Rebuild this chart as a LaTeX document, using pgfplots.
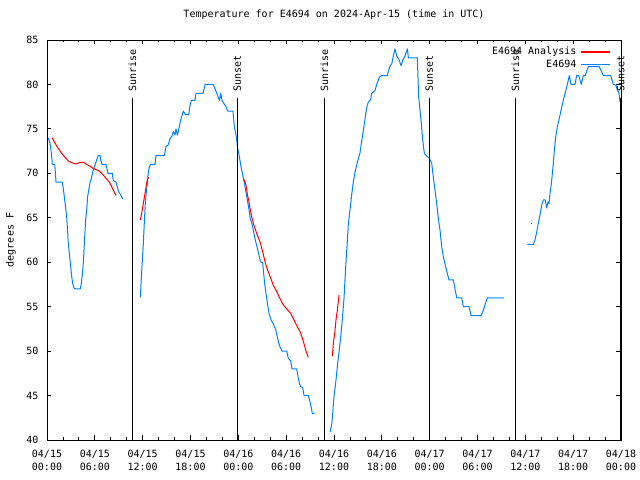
\documentclass[border=0pt]{standalone}
\usepackage{pgfplots}
\pgfplotsset{compat=1.18}
\usepackage{fontspec}
\setmainfont{DejaVu Sans Mono}
\definecolor{gpblue}{RGB}{0,128,255}
\definecolor{gpred}{RGB}{255,0,0}
\begin{document}
\fontsize{10bp}{13.4bp}\selectfont
\begin{tikzpicture}
\useasboundingbox (-47bp,-40bp) rectangle (593bp,440bp);
\begin{axis}[
  at={(0,0)}, anchor=south west,
  scale only axis, width=574bp, height=400bp,
  xmin=0, xmax=72, ymin=40, ymax=85,
  xtick={0,6,...,72},
  xticklabels={{04/15\\00:00},{04/15\\06:00},{04/15\\12:00},{04/15\\18:00},{04/16\\00:00},{04/16\\06:00},{04/16\\12:00},{04/16\\18:00},{04/17\\00:00},{04/17\\06:00},{04/17\\12:00},{04/17\\18:00},{04/18\\00:00}},
  x tick label style={align=center, yshift=-6.5bp, font=\fontsize{10bp}{13.4bp}\selectfont},
  minor x tick num=2,
  ytick={40,45,...,85},
  y tick label style={xshift=-5bp},
  /pgf/number format/assume math mode=true,
  major tick length=4.5bp, minor tick length=2.5bp,
  tick style={black, line width=0.8bp},
  axis line style={black, line width=0.9bp},
  ylabel={degrees F},
  ylabel style={at={(axis description cs:-0.0627,0.5)}, anchor=center},
  title={Temperature for E4694 on 2024-Apr-15 (time in UTC)},
  title style={at={(0.5,1)}, anchor=base, yshift=16.7bp, inner sep=0pt},
  clip=false,
  legend plot pos=right,
  legend cell align=right,
  legend image code/.code={\draw[#1, line width=1.4bp] (0bp,0bp) -- (28.6bp,0bp);},
  legend style={draw=none, fill=none, at={(rel axis cs:0.987,0.991)}, anchor=north east, row sep=0.5bp,
    nodes={inner sep=1.5bp}, column sep=2.5bp},
  every axis plot/.append style={line width=1bp, line join=round},
]
\addlegendimage{color=gpred}
\addlegendentry{E4694 Analysis}
\addlegendimage{color=gpblue}
\addlegendentry{E4694}

% Blue segments
\addplot[gpblue, forget plot] coordinates {
(0.16,74) (0.38,73.4) (0.5,72.6) (0.63,71.5) (0.66,71) (0.97,71) (1.09,69.6) (1.13,69) (1.92,69) (2.04,68.3) (2.17,67.4) (2.3,66.4) (2.47,65.1) (2.55,64) (2.67,62.1) (2.8,61) (2.97,59.5) (3.1,58.4) (3.22,57.6) (3.39,57.1) (3.55,57) (4.18,57) (4.3,57.6) (4.43,58.6) (4.52,59.5) (4.6,60.6) (4.68,62.1) (4.85,64.75) (4.98,65.9) (5.1,67.4) (5.27,68.3) (5.39,68.9) (5.61,69.6) (5.81,70.4) (6.02,70.9) (6.23,71.5) (6.43,72) (6.65,72) (6.74,71.5) (6.9,71) (7.4,71) (7.65,70) (8.19,70) (8.32,69.2) (8.66,69) (8.82,68.5) (8.99,67.9) (9.24,67.6) (9.5,67.1)
};
\addplot[gpblue, forget plot] coordinates {
(11.71,56.05) (11.83,58.2) (11.95,60.05) (12.08,62.05) (12.2,64.3) (12.33,66.6) (12.46,67.9) (12.58,68.9) (12.71,70.1) (12.83,70.7) (13.0,71) (13.55,71) (13.67,72) (14.72,72) (14.93,73) (15.2,73.2) (15.43,73.9) (15.68,74.2) (15.85,74.7) (16.06,74.3) (16.18,75) (16.35,74.3) (16.6,75.25) (16.77,76) (17.1,77) (17.37,76.6) (17.78,76.6) (17.93,77.6) (18.1,78.2) (18.55,78.2) (18.7,79) (19.58,79) (19.83,80) (20.86,80) (21.12,79.4) (21.38,78.8) (21.64,78.2) (21.79,79) (21.95,78.2) (22.15,77.9) (22.4,77.6) (22.67,77) (23.33,77) (23.4,76.2) (23.5,75.25) (23.67,74.5) (23.8,73.75) (23.92,72.8) (24.05,72.25) (24.2,71.5) (24.33,70.75) (24.46,70.2) (24.63,69.45) (24.8,68.7) (24.96,67.9) (25.09,67.2) (25.25,66.4) (25.38,65.7) (25.5,64.9) (25.68,64.4) (25.84,63.8) (26.0,63.05) (26.18,62.3) (26.38,61.6) (26.6,60.8) (26.76,60.05) (27.05,59.95) (27.18,58.75) (27.3,57.6) (27.47,56.5) (27.64,55.4) (27.85,54.25) (28.1,53.5) (28.39,53.05) (28.69,52.4) (28.89,51.6) (29.1,50.8) (29.31,50.3) (29.48,50) (30.07,50) (30.27,49.2) (30.57,48.9) (30.73,48) (31.32,48) (31.49,47.1) (31.65,46.4) (31.82,46) (32.07,45.9) (32.24,45) (32.78,45) (32.99,44.3) (33.12,43.75) (33.28,43) (33.58,43)
};
\addplot[gpblue, forget plot] coordinates {
(35.5,40.9) (35.71,41.7) (35.84,43) (36.0,44.9) (36.21,46.4) (36.42,48.25) (36.63,49.9) (36.84,51.6) (37.04,53.5) (37.26,56) (37.47,59.5) (37.63,61.8) (37.8,64.3) (38.0,65.8) (38.22,67.6) (38.42,69) (38.63,70.1) (38.92,71.2) (39.26,72.3) (39.47,73.6) (39.68,74.8) (39.89,76.1) (40.1,77.4) (40.3,78) (40.6,78.3) (40.73,79) (41.14,79.3) (41.36,80) (41.68,80.8) (41.98,81) (42.69,81) (42.82,81.5) (43.03,82.1) (43.24,82.3) (43.44,83.2) (43.65,84) (43.87,83.2) (44.15,82.8) (44.41,82.1) (44.66,82.8) (44.91,83.2) (45.2,84) (45.33,83) (46.45,83) (46.62,78.6) (46.87,76.4) (47.13,73.75) (47.33,72.25) (47.63,71.95) (47.96,71.7) (48.26,71.1) (48.46,69.6) (48.67,68.1) (48.88,66.6) (49.09,64.9) (49.3,63.6) (49.51,61.75) (49.72,60.6) (50.01,59.5) (50.21,58.75) (50.43,58) (50.97,58) (51.18,57) (51.39,56) (52.02,56) (52.22,55) (52.94,55) (53.19,54) (54.44,54) (54.65,54.4) (54.94,55.2) (55.23,56) (57.33,56)
};
\addplot[gpblue, forget plot] coordinates {
(60.25,62) (61.0,62) (61.21,62.5) (61.43,63.4) (61.63,64.4) (61.84,65.3) (62.05,66.4) (62.26,67) (62.5,67) (62.68,66.1) (62.85,66.8) (62.97,66.6) (63.1,67.75) (63.22,68.5) (63.35,69.6) (63.51,71.1) (63.64,72.6) (63.81,74.1) (64.01,75.2) (64.26,76.2) (64.51,77.2) (64.76,78.2) (65.02,79.1) (65.27,80) (65.52,81) (65.73,80) (66.23,80) (66.44,81) (66.7,81) (67.02,80) (67.27,81) (67.52,81) (67.7,81.5) (67.9,82) (69.28,82) (69.53,81.5) (69.78,81) (70.71,81) (70.87,80.5) (71.04,80) (71.37,79.9) (71.54,79.4) (71.75,79) (71.87,78.1)
};

% Red segments
\addplot[gpred, forget plot] coordinates {
(0.66,74) (1.0,73.4) (1.42,72.8) (1.84,72.25) (2.26,71.8) (2.67,71.4) (3.1,71.2) (3.64,71.05) (4.05,71.2) (4.55,71.25) (4.98,71) (5.39,70.8) (5.81,70.55) (6.23,70.4) (6.65,70.2) (7.06,69.8) (7.49,69.35) (7.9,68.9) (8.32,68.1) (8.66,67.5)
};
\addplot[gpred, forget plot] coordinates {
(11.71,64.75) (11.88,65.5) (12.08,66.6) (12.33,67.9) (12.58,69.3) (12.75,69.55)
};
\addplot[gpred, forget plot] coordinates {
(24.71,69.3) (24.96,68.7) (25.13,67.6) (25.3,67) (25.46,66.1) (25.68,65.1) (25.88,64.4) (26.09,63.8) (26.38,63.05) (26.72,62.3) (27.05,61.2) (27.35,60.05) (27.68,59.1) (28.06,58.2) (28.39,57.4) (28.81,56.7) (29.23,55.9) (29.64,55.2) (30.07,54.75) (30.57,54.25) (30.98,53.5) (31.4,52.75) (31.74,52.2) (32.03,51.45) (32.28,50.7) (32.49,50) (32.78,49.3)
};
\addplot[gpred, forget plot] coordinates {
(35.79,49.4) (35.92,50.9) (36.09,52) (36.25,53.5) (36.42,54.6) (36.63,56.3)
};
\addplot[gpred, forget plot] coordinates {
(60.7,64.3) (60.85,64.3)
};

% Sunrise / sunset markers
\addplot[black, line width=1bp, forget plot] coordinates {(10.70,78.47) (10.70,40)};
\addplot[black, line width=1bp, forget plot] coordinates {(23.87,78.47) (23.87,40)};
\addplot[black, line width=1bp, forget plot] coordinates {(34.79,78.47) (34.79,40)};
\addplot[black, line width=1bp, forget plot] coordinates {(47.96,78.47) (47.96,40)};
\addplot[black, line width=1bp, forget plot] coordinates {(58.75,78.47) (58.75,40)};
\addplot[black, line width=1bp, forget plot] coordinates {(71.96,78.47) (71.96,40)};
\node[rotate=90, anchor=west, inner sep=0pt] at (axis cs:10.70,79.15) {Sunrise};
\node[rotate=90, anchor=west, inner sep=0pt] at (axis cs:23.87,79.15) {Sunset};
\node[rotate=90, anchor=west, inner sep=0pt] at (axis cs:34.79,79.15) {Sunrise};
\node[rotate=90, anchor=west, inner sep=0pt] at (axis cs:47.96,79.15) {Sunset};
\node[rotate=90, anchor=west, inner sep=0pt] at (axis cs:58.75,79.15) {Sunrise};
\node[rotate=90, anchor=west, inner sep=0pt] at (axis cs:71.96,79.15) {Sunset};
\end{axis}
\end{tikzpicture}
\end{document}
